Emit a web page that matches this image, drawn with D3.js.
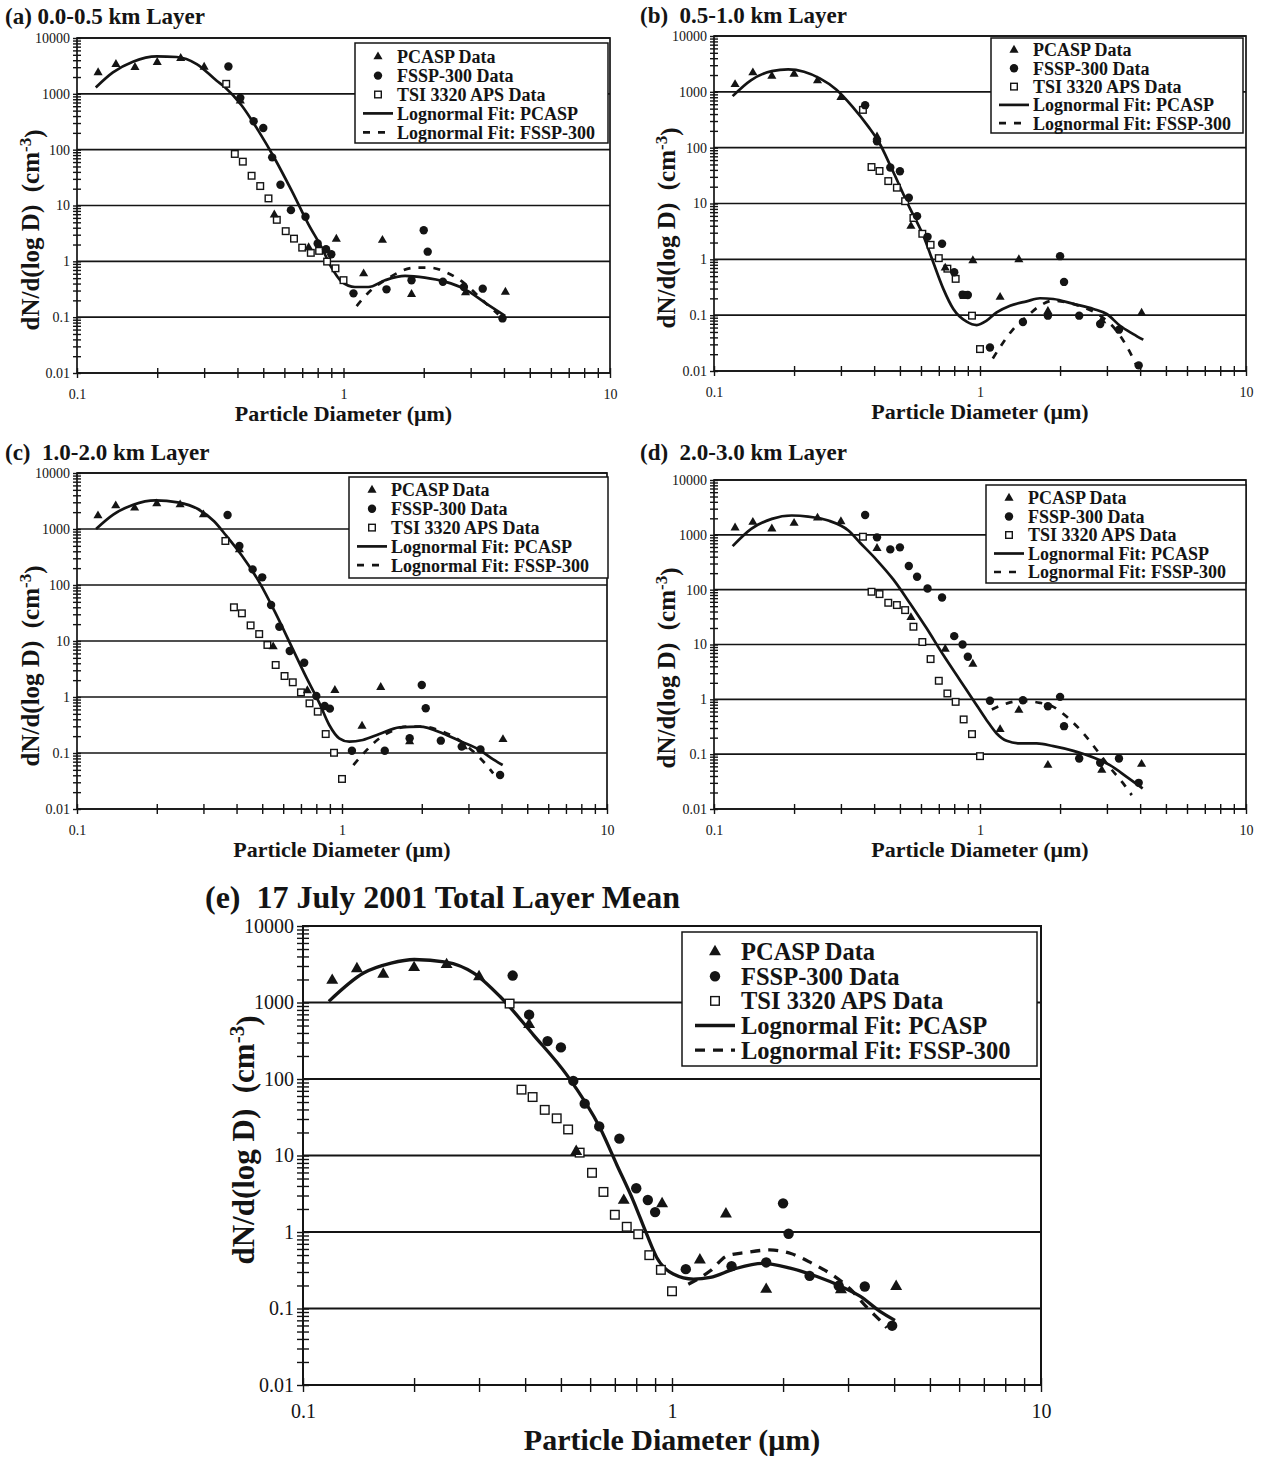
<!DOCTYPE html>
<html>
<head>
<meta charset="utf-8">
<script src="https://cdnjs.cloudflare.com/ajax/libs/d3/7.8.5/d3.min.js"></script>
<style>
body{margin:0;background:#fff;}
svg text{font-family:"Liberation Serif","Times New Roman",serif;fill:#141414;white-space:pre;}
</style>
</head>
<body>
<svg id="chart"></svg>
<script>
// bin diameters (um) of each instrument, shared by all panels
const pcaspSize = [0.12, 0.14, 0.165, 0.2, 0.245, 0.3, 0.41, 0.55, 0.74, 0.94, 1.19, 1.4, 1.8, 2.87, 4.05];
const fsspSize = [0.37, 0.41, 0.46, 0.50, 0.54, 0.58, 0.635, 0.72, 0.80, 0.86, 0.90, 1.09, 1.45, 1.8, 2.0, 2.07, 2.36, 2.83, 3.33, 3.95];
const apsSize = [0.363, 0.391, 0.419, 0.452, 0.487, 0.523, 0.562, 0.607, 0.652, 0.70, 0.754, 0.81, 0.868, 0.933, 1.0];

// (a) 0.0-0.5 km
const pcaspA = [2400, 3370, 2977, 3660, 4315, 3020, 752, 6.8, 1.76, 2.5, 0.60, 2.39, 0.256, 0.274, 0.282];
const fsspA = [3090, 847, 322, 245, 72.8, 23.6, 8.26, 6.27, 2.08, 1.65, 1.34, 0.267, 0.315, 0.458, 3.6, 1.49, 0.43, 0.347, 0.324, 0.095];
const apsA = [1510, 83.8, 61, 34.1, 22.3, 13.4, 5.54, 3.47, 2.55, 1.76, 1.42, 1.54, 0.99, 0.75, 0.46];
const fitPcaspA = [[0.1176,1303],[0.1364,2422],[0.1621,3762],[0.1993,4690],[0.2368,4563],[0.2813,3416],[0.3343,1714],[0.359,1313],[0.415,617],[0.479,219],[0.553,68],[0.639,18.4],[0.738,4.64],[0.828,1.76],[0.902,0.77],[0.984,0.433],[1.104,0.347],[1.239,0.347],[1.431,0.458],[1.702,0.547],[2.02,0.51],[2.40,0.433],[2.86,0.315],[3.40,0.181],[4.04,0.105]];
const fitFsspA = [[1.12,0.158],[1.239,0.274],[1.47,0.497],[1.85,0.77],[2.11,0.77],[2.44,0.627],[2.82,0.415],[3.30,0.208],[3.81,0.112]];

// (b) 0.5-1.0 km
const pcaspB = [1358, 2198, 1915, 2080, 1580, 795, 156, 3.93, 0.70, 0.95, 0.21, 0.99, 0.117, 0.08, 0.109];
const fsspB = [577, 130, 44, 37.7, 12.7, 5.94, 2.53, 1.9, 0.588, 0.233, 0.23, 0.0264, 0.0753, 0.098, 1.14, 0.394, 0.098, 0.0695, 0.055, 0.0126];
const apsB = [475, 45, 38.2, 25.2, 19.2, 11, 5.5, 2.87, 1.82, 1.05, 0.68, 0.447, 0.23, 0.098, 0.0247];
const fitPcaspB = [[0.1175,838],[0.138,1626],[0.165,2356],[0.19,2523],[0.218,2291],[0.25,1739],[0.288,1104],[0.332,540],[0.381,236],[0.415,130],[0.472,36.6],[0.546,8.07],[0.612,2.67],[0.667,0.887],[0.728,0.296],[0.794,0.129],[0.891,0.0764],[0.972,0.0665],[1.059,0.0796],[1.155,0.112],[1.297,0.148],[1.498,0.177],[1.681,0.201],[1.887,0.195],[2.245,0.159],[2.67,0.129],[2.995,0.105],[3.36,0.0647],[3.77,0.0459],[4.11,0.0363]];
const fitFsspB = [[1.117,0.0168],[1.224,0.0327],[1.334,0.0565],[1.498,0.094],[1.681,0.148],[1.887,0.182],[2.12,0.17],[2.45,0.138],[2.83,0.098],[3.26,0.0526],[3.61,0.0247],[3.88,0.0124]];

// (c) 1.0-2.0 km
const pcaspC = [1730, 2613, 2373, 2833, 2720, 1804, 428, 7.92, 1.30, 1.32, 0.303, 1.49, 0.159, 0.13, 0.175];
const fsspC = [1778, 497, 190, 137, 44, 18, 6.63, 4.1, 1.04, 0.69, 0.62, 0.11, 0.11, 0.183, 1.64, 0.628, 0.166, 0.13, 0.116, 0.0405];
const apsC = [611, 40, 31.2, 19, 13.3, 8.5, 3.73, 2.37, 1.83, 1.21, 0.77, 0.547, 0.218, 0.101, 0.0344];
const fitPcaspC = [[0.118,1000],[0.137,1804],[0.163,2720],[0.198,3251],[0.24,2994],[0.286,2277],[0.329,1371],[0.364,781],[0.42,329],[0.486,115],[0.562,31.2],[0.65,7.4],[0.731,2.31],[0.82,0.792],[0.895,0.316],[0.976,0.183],[1.066,0.159],[1.198,0.171],[1.384,0.218],[1.648,0.287],[1.963,0.295],[2.405,0.224],[2.78,0.164],[3.31,0.113],[3.72,0.077],[4.04,0.061]];
const fitFsspC = [[1.104,0.061],[1.233,0.11],[1.384,0.183],[1.555,0.251],[1.748,0.295],[2.02,0.295],[2.34,0.251],[2.70,0.183],[3.13,0.106],[3.51,0.061],[3.72,0.0434]];

// (d) 2.0-3.0 km
const pcaspD = [1340, 1698, 1285, 1630, 2037, 1746, 566, 31.2, 8.24, 4.39, 0.282, 0.635, 0.063, 0.051, 0.0657];
const fsspD = [2297, 900, 543, 591, 270, 172, 105, 72, 14.2, 10, 5.97, 0.94, 0.96, 0.75, 1.11, 0.324, 0.0834, 0.0695, 0.0834, 0.030];
const apsD = [924, 91.6, 83, 57.7, 52.4, 42.4, 21.1, 11.1, 5.42, 2.18, 1.28, 0.90, 0.43, 0.232, 0.092];
const fitPcaspD = [[0.1175,622],[0.138,1285],[0.165,1954],[0.196,2250],[0.226,2155],[0.269,1823],[0.32,1200],[0.354,718],[0.409,347],[0.472,154],[0.546,56],[0.63,19.7],[0.728,6.41],[0.841,2.24],[0.944,0.966],[1.059,0.417],[1.155,0.238],[1.259,0.175],[1.413,0.157],[1.633,0.157],[1.887,0.14],[2.245,0.115],[2.67,0.087],[3.08,0.063],[3.56,0.0386],[4.09,0.0237]];
const fitFsspD = [[1.108,0.655],[1.259,0.84],[1.413,0.94],[1.681,0.863],[1.887,0.73],[2.12,0.48],[2.45,0.238],[2.75,0.118],[3.08,0.057],[3.46,0.029],[3.72,0.0179]];

// (e) total layer mean
const pcaspE = [1944, 2766, 2345, 2864, 3126, 2174, 515, 11.3, 2.59, 2.34, 0.431, 1.72, 0.178, 0.176, 0.194];
const fsspE = [2250, 693, 313, 259, 94.5, 47.6, 24, 16.6, 3.73, 2.62, 1.82, 0.327, 0.357, 0.40, 2.37, 0.95, 0.267, 0.198, 0.194, 0.0596];
const apsE = [968, 72.6, 58.1, 39.5, 30.6, 21.9, 10.9, 5.94, 3.34, 1.68, 1.17, 0.935, 0.498, 0.32, 0.168];
const fitPcaspE = [[0.1175,1033],[0.1459,2427],[0.1733,3268],[0.2002,3651],[0.2443,3382],[0.2902,2427],[0.342,1197],[0.421,378],[0.518,114],[0.638,23],[0.708,7.64],[0.786,2.54],[0.854,0.935],[0.909,0.465],[1.008,0.282],[1.143,0.242],[1.27,0.255],[1.47,0.327],[1.76,0.39],[2.09,0.337],[2.47,0.262],[2.85,0.198],[3.24,0.144],[3.66,0.0917],[4.02,0.07]];
const fitFsspE = [[1.107,0.208],[1.27,0.311],[1.41,0.488],[1.59,0.54],[1.84,0.583],[2.09,0.528],[2.39,0.392],[2.74,0.268],[3.04,0.18],[3.37,0.104],[3.74,0.0628],[3.82,0.056]];

// tick labels
const yTickValues = [0.01, 0.1, 1, 10, 100, 1000, 10000];
const yTickLabels = ["0.01", "0.1", "1", "10", "100", "1000", "10000"];
const xTickValues = [0.1, 1, 10];
const xTickLabels = ["0.1", "1", "10"];
const legendLabels = ["PCASP Data", "FSSP-300 Data", "TSI 3320 APS Data", "Lognormal Fit: PCASP", "Lognormal Fit: FSSP-300"];

// minor log ticks 2..9 in each decade
let minorOf = (majors) => {
    let out = [];
    majors.slice(0, -1).forEach(v => { for (let k = 2; k < 10; k++) out.push(v * k); });
    return out;
};
const yAllTicks = yTickValues.concat(minorOf(yTickValues));
const xAllTicks = xTickValues.concat(minorOf(xTickValues));

// panel placement and sizing (layout only)
const small = {tickFont:14, titleFont:23, labFont:22, yLabFont:25, legFont:18, tick:4, grid:1.7, frame:1.7, line:2.7, dash:"7,8", tri:36, circ:4.2, sq:6.6, legMark:23, legText:42, legL:8, legR:38, xPad:11};
const big = {tickFont:20, titleFont:32, labFont:30, yLabFont:31, legFont:24.5, tick:6, grid:2, frame:2, line:3.3, dash:"10,8", tri:62, circ:5.2, sq:8.6, legMark:33, legText:59, legL:13, legR:53, xPad:12};

const panels = [
    {title:"(a) 0.0-0.5 km Layer", pcasp:pcaspA, fssp:fsspA, aps:apsA, fitP:fitPcaspA, fitF:fitFsspA, st:small,
     x0:77, x1:610, y0:38, y1:373, tx:5, ty:24, ylx:30, yly:230, xly:421, lg:{x:355, y:43, w:253, h:100, r0:56.7, step:18.9}},
    {title:"(b)  0.5-1.0 km Layer", pcasp:pcaspB, fssp:fsspB, aps:apsB, fitP:fitPcaspB, fitF:fitFsspB, st:small,
     x0:714, x1:1246, y0:36, y1:371, tx:640, ty:23, ylx:666, yly:228, xly:419, lg:{x:991, y:38, w:252, h:95, r0:50, step:18.3}},
    {title:"(c)  1.0-2.0 km Layer", pcasp:pcaspC, fssp:fsspC, aps:apsC, fitP:fitPcaspC, fitF:fitFsspC, st:small,
     x0:77, x1:607, y0:473, y1:809, tx:5, ty:460, ylx:30, yly:666, xly:857, lg:{x:349, y:477, w:259, h:101, r0:490, step:18.8}},
    {title:"(d)  2.0-3.0 km Layer", pcasp:pcaspD, fssp:fsspD, aps:apsD, fitP:fitPcaspD, fitF:fitFsspD, st:small,
     x0:714, x1:1246, y0:480, y1:809, tx:640, ty:460, ylx:666, yly:668, xly:857, lg:{x:986, y:485, w:260, h:98, r0:498, step:18.5}},
    {title:"(e)  17 July 2001 Total Layer Mean", pcasp:pcaspE, fssp:fsspE, aps:apsE, fitP:fitPcaspE, fitF:fitFsspE, st:big,
     x0:303, x1:1041, y0:926, y1:1385, tx:205, ty:908, ylx:243, yly:1140, xly:1450, lg:{x:682, y:932, w:355, h:134, r0:951.7, step:24.6}}
];

let svg = d3.select("#chart");
svg.attr("width", 1265).attr("height", 1457);
svg.append("rect").attr("width", 1265).attr("height", 1457).attr("fill", "#fff");

const ink = "#141414";

let styleAxis = (sel, st) => {
    sel.select(".domain").remove();
    sel.selectAll(".tick line").attr("stroke", ink).attr("stroke-width", 1.4);
    sel.selectAll(".tick text").attr("font-family", "Liberation Serif, serif").attr("font-size", st.tickFont).attr("fill", ink);
};

let drawPanel = (p) => {
    let st = p.st;
    let xScale = d3.scaleLog().domain([0.1, 10]).range([p.x0, p.x1]);
    let yScale = d3.scaleLog().domain([0.01, 10000]).range([p.y1, p.y0]);
    let g = svg.append("g");

    // horizontal gridlines at every decade
    g.selectAll(".grid").data(yTickValues).enter().append("line")
        .attr("x1", p.x0).attr("x2", p.x1)
        .attr("y1", d => yScale(d)).attr("y2", d => yScale(d))
        .attr("stroke", ink).attr("stroke-width", st.grid);

    g.append("rect")//plot frame
        .attr("x", p.x0).attr("y", p.y0).attr("width", p.x1 - p.x0).attr("height", p.y1 - p.y0)
        .attr("fill", "none").attr("stroke", ink).attr("stroke-width", st.frame);

    // axes: ticks cross the axis line, so draw one outward and one inward
    let yLab = d => { let i = yTickValues.indexOf(d); return i < 0 ? "" : yTickLabels[i]; };
    let xLab = d => { let i = xTickValues.indexOf(d); return i < 0 ? "" : xTickLabels[i]; };

    let yOut = g.append("g").attr("transform", "translate(" + p.x0 + ",0)")
        .call(d3.axisLeft(yScale).tickValues(yAllTicks).tickSize(st.tick).tickPadding(3).tickFormat(yLab));
    styleAxis(yOut, st);
    let yIn = g.append("g").attr("transform", "translate(" + p.x0 + ",0)")
        .call(d3.axisRight(yScale).tickValues(yAllTicks).tickSize(st.tick).tickFormat(""));
    styleAxis(yIn, st);

    let xOut = g.append("g").attr("transform", "translate(0," + p.y1 + ")")
        .call(d3.axisBottom(xScale).tickValues(xAllTicks).tickSize(st.tick + 1).tickPadding(st.xPad).tickFormat(xLab));
    styleAxis(xOut, st);
    let xIn = g.append("g").attr("transform", "translate(0," + p.y1 + ")")
        .call(d3.axisTop(xScale).tickValues(xAllTicks).tickSize(st.tick + 1).tickFormat(""));
    styleAxis(xIn, st);

    // fit curves
    let line = d3.line().x(d => xScale(d[0])).y(d => yScale(d[1])).curve(d3.curveMonotoneX);
    g.append("path").datum(p.fitP).attr("d", line)
        .attr("fill", "none").attr("stroke", ink).attr("stroke-width", st.line);
    g.append("path").datum(p.fitF).attr("d", line)
        .attr("fill", "none").attr("stroke", ink).attr("stroke-width", st.line).attr("stroke-dasharray", st.dash);

    // APS open squares
    g.selectAll(".aps").data(p.aps).enter().append("rect")
        .attr("x", (d, i) => xScale(apsSize[i]) - st.sq / 2)
        .attr("y", d => yScale(d) - st.sq / 2)
        .attr("width", st.sq).attr("height", st.sq)
        .attr("fill", "#fff").attr("stroke", ink).attr("stroke-width", 1.4);

    // PCASP triangles
    let tri = d3.symbol(d3.symbolTriangle).size(st.tri);
    g.selectAll(".pcasp").data(p.pcasp).enter().append("path")
        .attr("d", tri)
        .attr("transform", (d, i) => "translate(" + xScale(pcaspSize[i]) + "," + yScale(d) + ")")
        .attr("fill", ink);

    // FSSP dots
    g.selectAll(".fssp").data(p.fssp).enter().append("circle")
        .attr("cx", (d, i) => xScale(fsspSize[i]))
        .attr("cy", d => yScale(d))
        .attr("r", st.circ).attr("fill", ink);

    // legend
    let lg = p.lg;
    let leg = g.append("g");
    leg.append("rect").attr("x", lg.x).attr("y", lg.y).attr("width", lg.w).attr("height", lg.h)
        .attr("fill", "#fff").attr("stroke", ink).attr("stroke-width", 1.5);
    let rowY = i => lg.r0 + i * lg.step;
    leg.append("path").attr("d", tri).attr("transform", "translate(" + (lg.x + st.legMark) + "," + rowY(0) + ")").attr("fill", ink);
    leg.append("circle").attr("cx", lg.x + st.legMark).attr("cy", rowY(1)).attr("r", st.circ).attr("fill", ink);
    leg.append("rect").attr("x", lg.x + st.legMark - st.sq / 2).attr("y", rowY(2) - st.sq / 2)
        .attr("width", st.sq).attr("height", st.sq).attr("fill", "#fff").attr("stroke", ink).attr("stroke-width", 1.4);
    leg.append("line").attr("x1", lg.x + st.legL).attr("x2", lg.x + st.legR).attr("y1", rowY(3)).attr("y2", rowY(3))
        .attr("stroke", ink).attr("stroke-width", st.line);
    leg.append("line").attr("x1", lg.x + st.legL).attr("x2", lg.x + st.legR).attr("y1", rowY(4)).attr("y2", rowY(4))
        .attr("stroke", ink).attr("stroke-width", st.line).attr("stroke-dasharray", st.dash);
    leg.selectAll(".lt").data(legendLabels).enter().append("text")
        .attr("x", lg.x + st.legText).attr("y", (d, i) => rowY(i)).attr("dy", "0.35em")
        .attr("font-size", st.legFont).attr("font-weight", "bold").text(d => d);

    // titles
    g.append("text").attr("x", p.tx).attr("y", p.ty).attr("font-size", st.titleFont).attr("font-weight", "bold").text(p.title);

    g.append("text").attr("x", (p.x0 + p.x1) / 2).attr("y", p.xly).attr("text-anchor", "middle")
        .attr("font-size", st.labFont).attr("font-weight", "bold").text("Particle Diameter (μm)");

    let yl = g.append("text").attr("transform", "translate(" + p.ylx + "," + p.yly + ") rotate(-90)")
        .attr("text-anchor", "middle").attr("dy", "0.35em")
        .attr("font-size", st.yLabFont).attr("font-weight", "bold");
    yl.append("tspan").text("dN/d(log D)  (cm");
    yl.append("tspan").attr("dy", "-0.45em").attr("font-size", st.yLabFont * 0.68).text("-3");
    yl.append("tspan").attr("dy", "0.45em").text(")");
};

panels.forEach(drawPanel);
</script>
</body>
</html>
